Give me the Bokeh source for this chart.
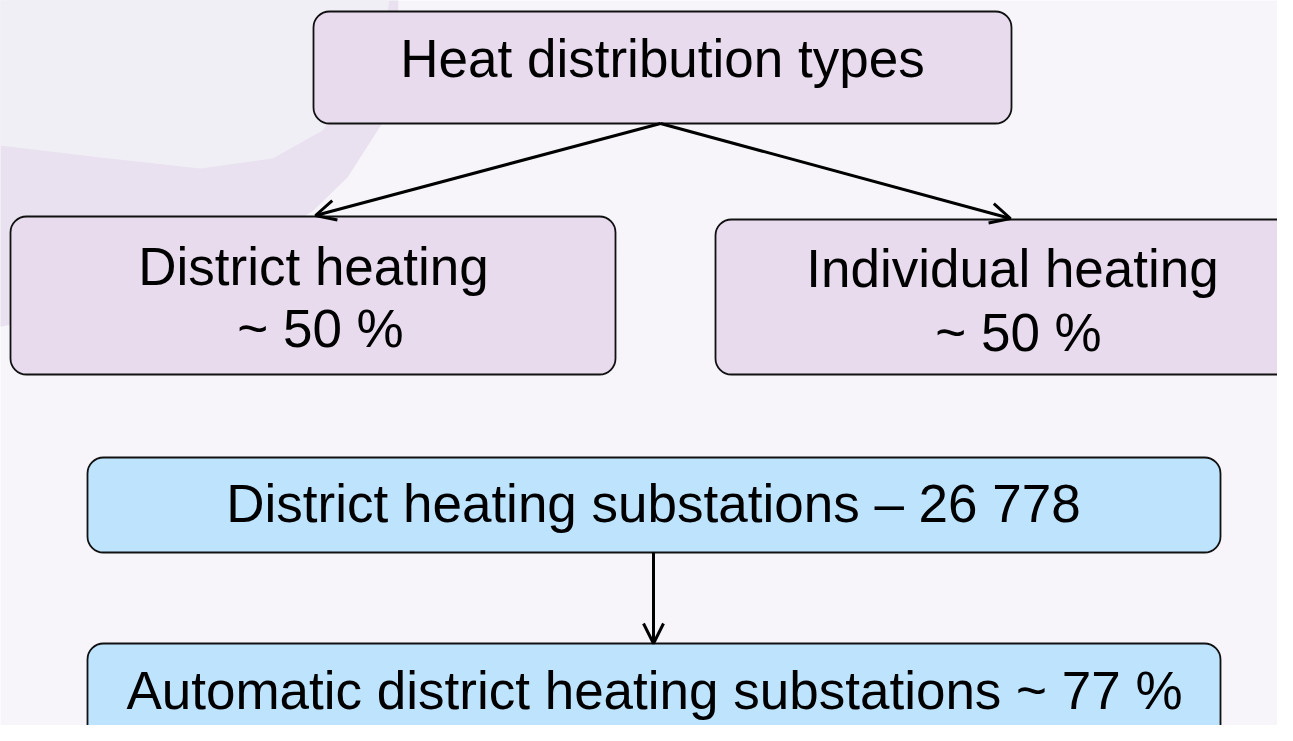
from bokeh.plotting import figure
from bokeh.models import Range1d, ColumnDataSource, Arrow, OpenHead
from bokeh.core.properties import value
from bokeh.embed import file_html
from bokeh.resources import INLINE

# ---- data ----
root_label = "Heat distribution types"
split_labels = ["District heating", "Individual heating"]
split_shares = [50, 50]
substation_label = "District heating substations"
substation_count = 26778
automatic_label = "Automatic district heating substations"
automatic_share = 77

# ---- layout (reference pixel space) ----
BG = "#f7f5fa"
PURPLE = "#e7dbed"
BLUE = "#bde3fd"
FONT = value("Liberation Sans")
FS = "53px"

p = figure(width=1277, height=725, x_range=Range1d(0, 1277), y_range=Range1d(725, 0),
           output_backend="svg", toolbar_location=None, min_border=0)
p.axis.visible = False
p.grid.visible = False
p.outline_line_color = None
p.background_fill_color = BG
p.border_fill_color = BG

# decorative background swoosh
p.patch([-10, 398, 397, 390, 347, 313, 250, 150, 60, -10],
        [-10, -10, 60, 110, 177, 210, 250, 290, 315, 328],
        fill_color="#e9e1ef", line_color=None)
p.patch([-10, 390, 386, 362, 322, 272, 200, 100, -10],
        [-10, -10, 20, 80, 130, 158, 168, 157, 144],
        fill_color="#f1eff6", line_color=None)

# boxes
box_left = [313, 10, 715, 87, 87]
box_right = [1011, 615, 1292, 1220, 1220]
box_top = [11, 216, 219, 457, 643]
box_bottom = [123, 374, 374, 552, 760]
box_fill = [PURPLE, PURPLE, PURPLE, BLUE, BLUE]
boxes = ColumnDataSource(dict(left=box_left, right=box_right, top=box_top,
                              bottom=box_bottom, fill=box_fill))
p.quad(left="left", right="right", top="top", bottom="bottom", source=boxes,
       fill_color="fill", line_color="#111111", line_width=1.8, border_radius=16)

# texts (y is baseline; renderer places alphabetic baseline ~20px lower)
texts = [root_label,
         split_labels[0], f"~ {split_shares[0]} %",
         split_labels[1], f"~ {split_shares[1]} %",
         f"{substation_label} \u2013 {substation_count:,}".replace(",", " "),
         f"{automatic_label} ~ {automatic_share} %"]
tx = [662, 313, 320, 1012, 1018, 653, 654]
ty = [58, 266, 328, 268, 332, 503, 690]
p.text(x=tx, y=ty, text=texts, text_font=FONT, text_font_size=FS,
       text_align="center", text_baseline="alphabetic", text_color="#000000")

# arrows
arrows = [(660, 123, 315, 215), (660, 123, 1010, 218), (653, 552, 653, 643)]
for xs, ys, xe, ye in arrows:
    p.add_layout(Arrow(end=OpenHead(size=20, line_width=3, line_color="#000000"),
                       x_start=xs, y_start=ys, x_end=xe, y_end=ye,
                       line_width=3, line_color="#000000"))

open("out.html", "w").write(file_html(p, INLINE))
